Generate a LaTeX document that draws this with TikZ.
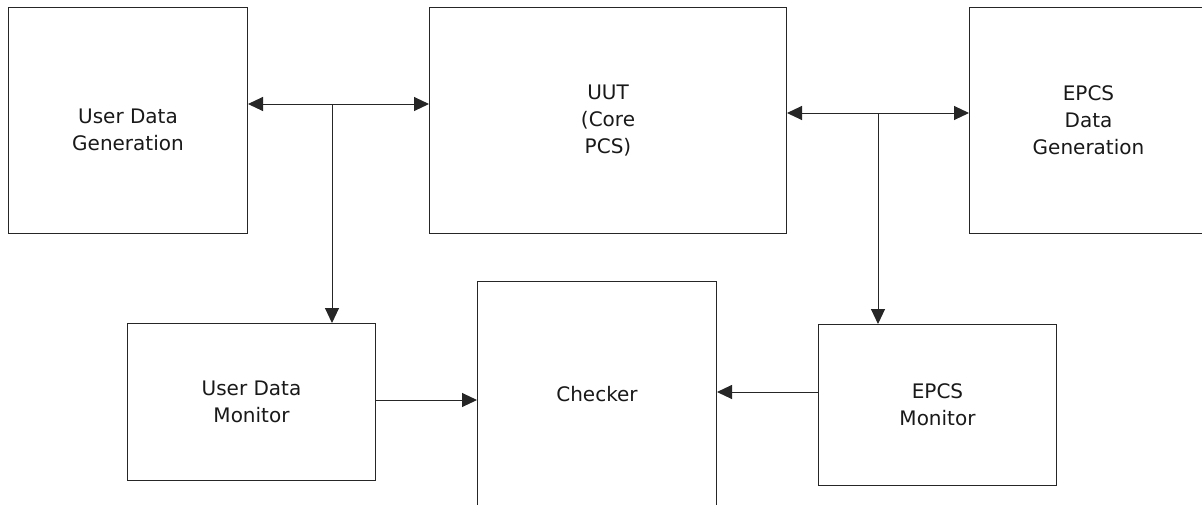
\documentclass[tikz,border=0pt]{standalone}
\usepackage{fontspec}
\setmainfont{DejaVu Sans}
\usetikzlibrary{arrows.meta}
\tikzset{
  block/.style={draw=black!85, line width=1pt, anchor=north west, inner sep=0pt,
    align=center, font=\fontsize{20}{27}\selectfont, text=black!90},
  link/.style={draw=black!85, line width=1pt, -{Triangle[length=15pt,width=14pt]}},
}
\begin{document}
\begin{tikzpicture}[x=1pt,y=-1pt]
  \useasboundingbox (0,0) rectangle (1202,504);
  \clip (0,0) rectangle (1202,504);
  \fill[white] (0,0) rectangle (1202,504);
  % upper row
  \node[block, minimum width=239pt, minimum height=226pt] (udg) at (8,7)
    {\raisebox{-16pt}[0pt][0pt]{\begin{tabular}{@{}c@{}}User Data\\Generation\end{tabular}}};
  \node[block, minimum width=357pt, minimum height=226pt] (uut) at (429,7)
    {UUT\\(Core\\PCS)};
  \node[block, minimum width=238pt, minimum height=226pt] (edg) at (969,7)
    {EPCS\\Data\\Generation};
  % lower row
  \node[block, minimum width=248pt, minimum height=157pt] (udm) at (127,323)
    {User Data\\Monitor};
  \node[block, minimum width=239pt, minimum height=226pt] (chk) at (477,281)
    {Checker};
  \node[block, minimum width=238pt, minimum height=161pt] (epm) at (818,324)
    {EPCS\\Monitor};
  % taps on the two buses
  \coordinate (j1) at (332,104);
  \coordinate (j2) at (878,113);
  \draw[link] (j1) -- (udg.east |- j1);
  \draw[link] (j1) -- (uut.west |- j1);
  \draw[link] (j1) -- (udm.north -| j1);
  \draw[link] (j2) -- (uut.east |- j2);
  \draw[link] (j2) -- (edg.west |- j2);
  \draw[link] (j2) -- (epm.north -| j2);
  % monitors feed the checker
  \coordinate (m1) at (375,400);
  \coordinate (m2) at (818,392);
  \draw[link] (udm.east |- m1) -- (chk.west |- m1);
  \draw[link] (epm.west |- m2) -- (chk.east |- m2);
\end{tikzpicture}
\end{document}
